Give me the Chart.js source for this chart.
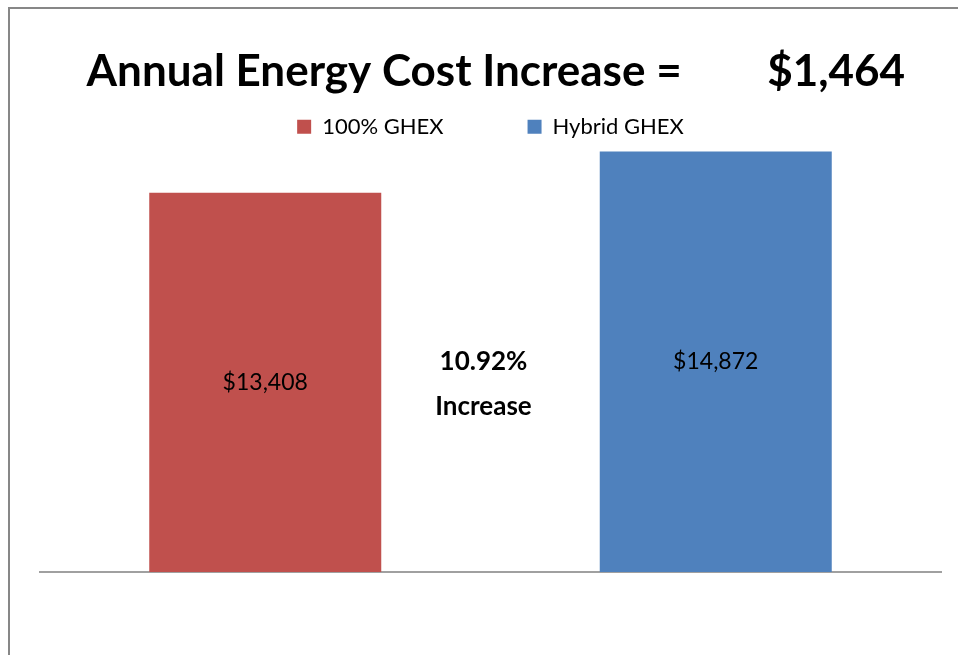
<!DOCTYPE html>
<html>
<head>
<meta charset="utf-8">
<title>Annual Energy Cost</title>
<script src="https://cdn.jsdelivr.net/npm/chart.js@4.4.1/dist/chart.umd.min.js"></script>
<style>
  html, body { margin: 0; padding: 0; background: #fff; }
  body { width: 958px; height: 655px; position: relative; overflow: hidden; }
  .frame {
    position: absolute; left: 8px; top: 7px; right: -4px; bottom: -4px;
    border-left: 2px solid #878787; border-top: 2px solid #878787;
  }
  #chart { position: absolute; left: 0; top: 0; }
</style>
</head>
<body>
<div class="frame"></div>
<canvas id="chart" width="958" height="655"></canvas>
<script>
var seriesNames = ['100% GHEX', 'Hybrid GHEX'];
var seriesColors = ['#C0504D', '#4F81BD'];
var annualCost = [13408, 14872];

var increase = annualCost[1] - annualCost[0];
var increasePct = (increase / annualCost[0] * 100).toFixed(2) + '%';

function money(v) {
  return '$' + v.toLocaleString('en-US');
}

// each series sits alone in its own category slot
var datasets = seriesNames.map(function (name, i) {
  var values = annualCost.map(function (v, j) { return j === i ? v : null; });
  return {
    label: name,
    data: values,
    backgroundColor: seriesColors[i],
    borderWidth: 0,
    barPercentage: 0.515,
    categoryPercentage: 1
  };
});

var barLabels = {
  id: 'barLabels',
  afterDatasetsDraw: function (chart) {
    var ctx = chart.ctx;
    ctx.save();
    ctx.fillStyle = '#000';
    ctx.textAlign = 'center';
    ctx.textBaseline = 'middle';
    ctx.font = '23px Lato';
    chart.data.datasets.forEach(function (ds, i) {
      chart.getDatasetMeta(i).data.forEach(function (bar, j) {
        if (ds.data[j] == null) return;
        var p = bar.getProps(['x', 'y', 'base'], true);
        ctx.fillText(money(ds.data[j]), p.x, (p.y + p.base) / 2);
      });
    });

    // note between the bars
    var area = chart.chartArea;
    var cx = (area.left + area.right) / 2 - 7;
    ctx.font = 'bold 26px Lato';
    ctx.fillText(increasePct, cx, area.top + 214);
    ctx.fillText('Increase', cx, area.top + 259);
    ctx.restore();
  }
};

new Chart(document.getElementById('chart'), {
  type: 'bar',
  data: {
    labels: ['', ''],
    datasets: datasets
  },
  options: {
    responsive: false,
    animation: false,
    grouped: false,
    layout: { padding: { left: 40, right: 17, top: 0, bottom: 83 } },
    scales: {
      x: {
        grid: { display: false, drawTicks: false },
        ticks: { display: false },
        border: { display: true, color: '#A0A0A0', width: 2 }
      },
      y: {
        display: false,
        min: 0,
        max: 15000
      }
    },
    plugins: {
      title: {
        display: true,
        text: ' Annual Energy Cost Increase =' + ' '.repeat(8) + money(increase),
        color: '#000',
        font: { family: 'Lato', size: 44, weight: 'bold', lineHeight: 1.2 },
        padding: { top: 45, bottom: -66 }
      },
      legend: {
        display: true,
        labels: {
          color: '#000',
          font: { family: 'Lato', size: 22 },
          boxWidth: 14,
          boxHeight: 14,
          padding: 84
        }
      },
      tooltip: { enabled: false }
    }
  },
  plugins: [barLabels]
});
</script>
</body>
</html>
